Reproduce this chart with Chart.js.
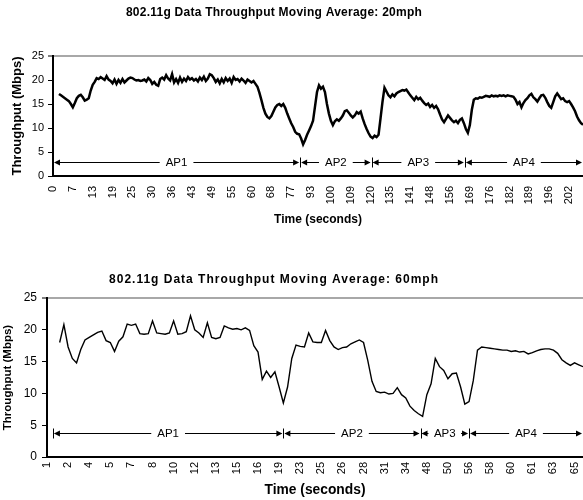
<!DOCTYPE html>
<html>
<head>
<meta charset="utf-8">
<script src="https://cdn.jsdelivr.net/npm/chart.js@4.4.1/dist/chart.umd.min.js"></script>
<style>
html,body{margin:0;padding:0;background:#fff;}
canvas{display:block;}
</style>
</head>
<body>
<canvas id="c20" width="583" height="250"></canvas>
<canvas id="c60" width="583" height="250"></canvas>
<script>
// 20mph run: one sample per category, a time label every 10th sample
const ticks20 = [0,7,13,19,25,30,36,43,49,55,60,68,77,93,100,109,120,135,141,148,156,169,176,182,189,196,202];
const tp20 = [
  null,null,null,
  17.1,16.8,16.5,16.2,15.9,15.6,15.0,14.3,15.2,16.2,16.7,16.9,16.4,15.7,15.9,16.2,17.8,19.0,19.6,20.4,20.2,20.6,20.3,20.0,20.8,20.1,19.8,
  19.3,20.1,19.2,20.0,19.4,20.2,19.5,19.9,20.3,20.5,
  20.4,20.1,19.9,20.0,19.8,19.9,20.1,19.7,20.4,20.0,
  19.2,19.6,19.0,18.8,20.2,20.5,20.1,21.0,20.3,19.9,
  21.2,19.5,20.2,19.4,20.5,19.6,20.3,19.8,20.6,20.1,
  20.4,19.9,20.2,19.7,20.5,20.0,20.7,19.8,20.3,21.2,
  21.0,20.4,19.6,20.1,19.3,20.2,19.5,20.4,19.8,20.3,
  19.4,20.6,20.0,20.2,19.7,20.3,19.9,19.4,20.1,19.8,
  19.5,
  19.8,19.2,18.6,17.3,15.8,14.2,13.0,12.3,12.0,12.5,
  13.4,14.3,14.8,15.0,14.6,15.0,14.2,13.0,12.0,11.0,
  10.2,9.2,8.8,8.7,7.8,6.6,7.5,8.6,9.5,10.4,
  11.5,14.5,17.5,18.9,18.2,18.6,17.5,15.0,13.0,11.5,
  10.6,11.4,11.8,11.5,12.0,12.6,13.5,13.7,13.2,12.6,
  12.2,12.6,13.3,13.0,13.4,12.0,10.8,9.8,8.9,8.2,
  7.9,8.4,8.1,8.6,12.0,15.5,18.4,17.6,16.8,16.4,
  17.0,16.6,17.2,17.5,17.7,17.9,17.8,18.0,17.4,16.8,
  16.3,15.8,16.5,16.0,16.3,15.7,15.2,14.8,15.1,14.4,
  14.8,14.2,14.6,13.9,12.8,11.8,11.2,11.9,12.6,12.1,
  11.6,11.2,11.5,11.0,11.7,12.0,11.0,9.8,9.0,10.6,
  13.8,15.9,16.2,16.1,16.4,16.3,16.5,16.7,16.6,16.5,
  16.8,16.6,16.7,16.6,16.8,16.7,16.8,16.6,16.8,16.7,16.6,16.5,
  15.9,15.0,15.4,14.3,15.2,15.8,16.2,16.8,17.1,16.4,
  16.0,15.5,16.2,16.8,16.9,16.3,15.4,14.6,14.2,15.4,
  16.6,17.2,16.6,16.0,16.2,15.6,15.4,15.6,15.0,14.3,
  13.5,12.4,11.6,11.0,10.7
];

// 60mph run: a time label every 5th sample
const ticks60 = [1,2,4,5,7,8,10,12,13,15,16,19,23,25,26,28,31,34,48,50,56,58,60,61,63,65];
const tp60 = [
  null,null,null,
  18.0,20.8,17.3,15.5,14.8,16.9,18.4,18.8,19.2,19.6,
  19.8,18.3,18.0,16.6,18.2,18.9,20.9,20.7,20.9,19.4,
  19.3,19.4,21.4,19.5,19.4,19.3,19.5,21.4,19.3,19.4,
  19.7,22.2,20.0,19.5,18.8,21.1,18.8,18.6,18.8,20.6,
  20.3,20.1,20.2,20.0,20.3,19.9,17.5,16.5,12.2,13.5,
  12.5,13.4,11.0,8.5,11.0,15.5,17.6,17.4,17.3,19.5,
  18.1,18.0,18.0,19.9,18.3,17.3,16.9,17.2,17.3,17.8,
  18.1,18.4,18.0,15.2,11.9,10.3,10.1,10.2,9.9,10.0,
  10.9,9.8,9.3,8.0,7.3,6.8,6.4,9.8,11.5,15.5,
  14.2,13.6,12.3,13.1,13.2,11.0,8.3,8.7,12.0,16.8,
  17.3,17.2,17.1,17.0,16.9,16.8,16.8,16.6,16.7,16.5,
  16.6,16.2,16.4,16.7,16.9,17.0,17.0,16.8,16.3,15.3,
  14.8,14.4,14.8,14.5,14.2
];

// access point hand-offs (sample index where each AP range starts/ends)
const apNames = ['AP1','AP2','AP3','AP4'];
const apEdges20 = [0,124.5,160.5,207.5,267];
const apEdges60 = [1.4,56,88.5,100,127];
const apLevel20 = 3.0;
const apLevel60 = 3.8;

Chart.defaults.font.family = '"Liberation Sans", Arial, sans-serif';
Chart.defaults.color = '#000';

function buildLabels(n, every, ticks){
  const out=[];
  for(let i=0;i<n;i++){
    out.push(i%every===0 && ticks[i/every]!==undefined ? String(ticks[i/every]) : '');
  }
  return out;
}

function head(ctx,tipX,y,dir){
  ctx.beginPath();
  ctx.moveTo(tipX,y);
  ctx.lineTo(tipX+dir*6,y-3);
  ctx.lineTo(tipX+dir*6,y+3);
  ctx.closePath();
  ctx.fill();
}

// the |<-- APx -->| markers
const apArrows = {
  id:'apArrows',
  afterDatasetsDraw(chart, args, opts){
    const {ctx, scales:{x,y}} = chart;
    const yy = Math.round(y.getPixelForValue(opts.level))+0.5;
    const px = opts.edges.map(e=>x.getPixelForValue(e));
    ctx.save();
    ctx.font = opts.font;
    ctx.strokeStyle='#000'; ctx.fillStyle='#000'; ctx.lineWidth=1;
    ctx.textAlign='center'; ctx.textBaseline='middle';
    for(let k=0;k<opts.names.length;k++){
      const a=px[k], b=px[k+1], cx=(a+b)/2;
      const tw=ctx.measureText(opts.names[k]).width;
      const gap=Math.max(2,Math.min(6,(b-a-tw)/2-8));
      ctx.beginPath();
      ctx.moveTo(a+2,yy); ctx.lineTo(cx-tw/2-gap,yy);
      ctx.moveTo(cx+tw/2+gap,yy); ctx.lineTo(b-2,yy);
      ctx.stroke();
      head(ctx,a+1,yy,1);
      head(ctx,b-1,yy,-1);
      ctx.fillText(opts.names[k],cx,yy+0.5);
    }
    px.forEach(p=>{
      const xx=Math.round(p)+0.5;
      ctx.beginPath(); ctx.moveTo(xx,yy-5); ctx.lineTo(xx,yy+5); ctx.stroke();
    });
    ctx.restore();
  }
};

// chart title, placed like the original sheet (not centred on the canvas)
const headline = {
  id:'headline',
  afterDraw(chart, args, opts){
    const ctx=chart.ctx;
    ctx.save();
    ctx.font=opts.font; ctx.fillStyle='#000';
    if('letterSpacing' in ctx) ctx.letterSpacing=opts.spacing+'px';
    ctx.textAlign='center'; ctx.textBaseline='middle';
    ctx.fillText(opts.text,opts.x,opts.y);
    ctx.restore();
  }
};

function makeChart(id, s){
  return new Chart(document.getElementById(id), {
    type:'line',
    data:{
      labels: buildLabels(s.data.length, s.every, s.ticks),
      datasets:[{
        data: s.data,
        borderColor:'#000',
        borderWidth: s.lineWidth,
        pointRadius:0,
        tension:0,
        fill:false
      }]
    },
    options:{
      responsive:false,
      animation:false,
      layout:{padding:{top:s.plotTop,left:0,right:0,bottom:0}},
      plugins:{
        legend:{display:false},
        tooltip:{enabled:false},
        title:{display:false},
        headline:{text:s.title, x:274, y:s.titleY, font:s.titleFont, spacing:s.titleSpacing},
        apArrows:{names:apNames, edges:s.edges, level:s.level, font:'11.5px "Liberation Sans", Arial, sans-serif'}
      },
      scales:{
        x:{
          type:'category',
          ticks:{autoSkip:false, minRotation:90, maxRotation:90, padding:s.xPad, font:{size:s.xFont}, color:'#000'},
          grid:{display:false, drawTicks:false},
          border:{display:true, color:'#000', width:2},
          title:{display:true, text:'Time (seconds)', color:'#000', font:{size:s.xTitleSize, weight:'bold'}, padding:{top:0,bottom:s.xTitlePad}},
          afterFit(sc){ sc.height=s.xHeight; sc.paddingLeft=0; sc.paddingRight=0; }
        },
        y:{
          min:0, max:25,
          ticks:{stepSize:5, padding:s.yPad, font:{size:s.yFont}, color:'#000'},
          grid:{
            color: c=>c.tick && c.tick.value===25 ? '#a8a8a8' : 'rgba(0,0,0,0)',
            lineWidth: c=>c.tick && c.tick.value===25 ? 2 : 1,
            tickLength:5, tickColor:'#000', tickWidth:1
          },
          border:{display:true, color:'#000', width:2},
          title:{display:true, text:'Throughput (Mbps)', color:'#000', font:{size:s.yTitleSize, weight:'bold'}, padding:{top:s.yTitlePad,bottom:0}},
          afterFit(sc){ sc.width=s.yWidth; sc.paddingTop=0; sc.paddingBottom=0; }
        }
      }
    },
    plugins:[apArrows, headline]
  });
}

makeChart('c20', {
  data: tp20, ticks: ticks20, every:10, lineWidth:2.5,
  title:'802.11g Data Throughput Moving Average: 20mph', titleY:13,
  titleFont:'bold 12px "Liberation Sans", Arial, sans-serif', titleSpacing:0.25,
  edges: apEdges20, level: apLevel20,
  plotTop:56, xHeight:74, yWidth:53,
  xPad:10, xFont:11, xTitleSize:12, xTitlePad:23,
  yPad:4, yFont:11, yTitleSize:13, yTitlePad:10
});

makeChart('c60', {
  data: tp60, ticks: ticks60, every:5, lineWidth:1.4,
  title:'802.11g Data Throughput Moving Average: 60mph', titleY:30,
  titleFont:'bold 12px "Liberation Sans", Arial, sans-serif', titleSpacing:1,
  edges: apEdges60, level: apLevel60,
  plotTop:48, xHeight:43, yWidth:47,
  xPad:5, xFont:11, xTitleSize:13.8, xTitlePad:2,
  yPad:5, yFont:12, yTitleSize:11.5, yTitlePad:1
});
</script>
</body>
</html>
